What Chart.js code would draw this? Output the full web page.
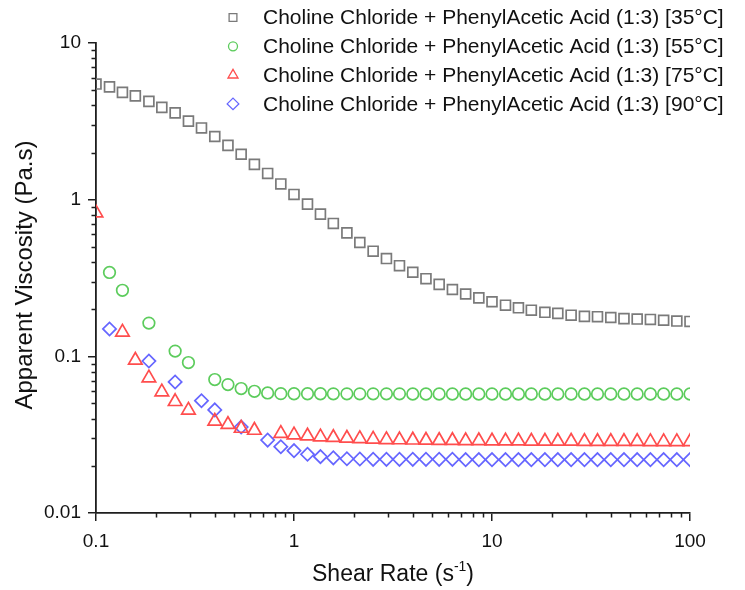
<!DOCTYPE html>
<html lang="en">
<head>
<meta charset="UTF-8">
<title>Apparent Viscosity vs Shear Rate</title>
<script src="https://cdn.jsdelivr.net/npm/chart.js@4"></script>
<style>
  html, body { margin: 0; padding: 0; background: #fff; }
  #wrap { width: 745px; height: 590px; }
</style>
</head>
<body>
<div id="wrap"><canvas id="viscChart" width="745" height="590"></canvas></div>
<script>
// shear rate sweep (1/s), log spaced
const shearRate = [0.1, 0.117, 0.136, 0.158, 0.185, 0.215, 0.251, 0.293, 0.341, 0.398,
  0.464, 0.541, 0.631, 0.736, 0.858, 1, 1.17, 1.36, 1.58, 1.85,
  2.15, 2.51, 2.93, 3.41, 3.98, 4.64, 5.41, 6.31, 7.36, 8.58,
  10, 11.7, 13.6, 15.8, 18.5, 21.5, 25.1, 29.3, 34.1, 39.8,
  46.4, 54.1, 63.1, 73.6, 85.8, 100];

// apparent viscosity (Pa.s), null = no point plotted
const visc35 = [5.47, 5.25, 4.84, 4.60, 4.24, 3.88, 3.58, 3.17, 2.87, 2.53,
  2.22, 1.95, 1.68, 1.47, 1.26, 1.08, 0.936, 0.808, 0.705, 0.614,
  0.533, 0.469, 0.421, 0.379, 0.344, 0.313, 0.288, 0.267, 0.250, 0.236,
  0.223, 0.212, 0.204, 0.197, 0.191, 0.188, 0.183, 0.180, 0.179, 0.177,
  0.174, 0.173, 0.172, 0.170, 0.168, 0.167];
const visc55 = [null, 0.343, 0.264, null, 0.163, null, 0.108, 0.0913, null, 0.0711,
  0.066, 0.0623, 0.0598, 0.0584, 0.0578, 0.0577, 0.0577, 0.0577, 0.0576, 0.0576,
  0.0576, 0.0576, 0.0576, 0.0576, 0.0575, 0.0575, 0.0575, 0.0575, 0.0575, 0.0575,
  0.0575, 0.0575, 0.0575, 0.0575, 0.0575, 0.0575, 0.0575, 0.0575, 0.0575, 0.0575,
  0.0575, 0.0575, 0.0575, 0.0575, 0.0575, 0.0575];
const visc75 = [0.823, null, 0.1425, 0.0944, 0.0728, 0.0593, 0.0514, 0.0453, null, 0.0385,
  0.0367, 0.0347, 0.0337, null, 0.0322, 0.0315, 0.031, 0.0306, 0.0303, 0.030,
  0.0298, 0.0296, 0.0294, 0.0293, 0.0292, 0.0291, 0.029, 0.029, 0.0289, 0.0289,
  0.0288, 0.0288, 0.0288, 0.0287, 0.0287, 0.0287, 0.0287, 0.0286, 0.0286, 0.0286,
  0.0286, 0.0286, 0.0285, 0.0285, 0.0285, 0.0285];
const visc90 = [null, 0.1496, null, null, 0.0933, null, 0.0686, null, 0.0521, 0.0455,
  null, 0.0354, null, 0.0292, 0.0265, 0.025, 0.0237, 0.0229, 0.0225, 0.0222,
  0.0221, 0.022, 0.022, 0.022, 0.022, 0.022, 0.022, 0.022, 0.0219, 0.0219,
  0.0219, 0.0219, 0.0219, 0.0219, 0.0219, 0.0219, 0.0219, 0.0219, 0.0219, 0.0219,
  0.0219, 0.0219, 0.0219, 0.0219, 0.0219, 0.0219];

const seriesLabels = [
  'Choline Chloride + PhenylAcetic Acid (1:3) [35°C]',
  'Choline Chloride + PhenylAcetic Acid (1:3) [55°C]',
  'Choline Chloride + PhenylAcetic Acid (1:3) [75°C]',
  'Choline Chloride + PhenylAcetic Acid (1:3) [90°C]'
];
const xTicks = [0.1, 1, 10, 100];
const yTicks = [0.01, 0.1, 1, 10];
const xTitle = 'Shear Rate (s';
const yTitle = 'Apparent Viscosity (Pa.s)';

const FONT = "'Liberation Sans', Arial, sans-serif";
const AXIS = '#1e1e1e';

function toPoints(vals) {
  return shearRate.map((x, i) => ({ x: x, y: vals[i] })).filter(p => p.y !== null);
}

function makeSet(i, vals, color, style, r) {
  return {
    label: seriesLabels[i],
    data: toPoints(vals),
    pointStyle: style,
    pointRadius: r,
    pointHoverRadius: r,
    pointBorderWidth: 1.7,
    pointBorderColor: color,
    pointBackgroundColor: 'rgba(0,0,0,0)',
    borderColor: color,
    showLine: false
  };
}

// short unlabeled ticks between the decades
function minorValues(first, last) {
  const out = [];
  for (let d = first; d < last; d *= 10) {
    for (let m = 2; m <= 9; m++) out.push(+(m * d).toPrecision(3));
  }
  return out;
}

const minorTicks = {
  id: 'minorTicks',
  afterDraw(chart) {
    const { ctx, scales: { x, y } } = chart;
    ctx.save();
    ctx.strokeStyle = AXIS;
    ctx.lineWidth = 1.5;
    ctx.beginPath();
    minorValues(0.1, 100).forEach(v => {
      const px = Math.round(x.getPixelForValue(v)) + 0.5;
      ctx.moveTo(px, y.bottom);
      ctx.lineTo(px, y.bottom + 4.5);
    });
    minorValues(0.01, 10).forEach(v => {
      const py = Math.round(y.getPixelForValue(v)) + 0.5;
      ctx.moveTo(x.left, py);
      ctx.lineTo(x.left - 4.5, py);
    });
    ctx.stroke();
    ctx.restore();
  }
};

const titles = {
  id: 'titles',
  afterDraw(chart) {
    const { ctx, chartArea } = chart;
    ctx.save();
    ctx.fillStyle = '#111';
    // x title with superscript -1
    const mainFont = '23px ' + FONT;
    const supFont = '14px ' + FONT;
    ctx.font = mainFont;
    const w1 = ctx.measureText(xTitle).width;
    ctx.font = supFont;
    const w2 = ctx.measureText('-1').width;
    ctx.font = mainFont;
    const w3 = ctx.measureText(')').width;
    const cx = (chartArea.left + chartArea.right) / 2;
    const tx = cx - (w1 + w2 + w3) / 2;
    const base = 581;
    ctx.textAlign = 'left';
    ctx.textBaseline = 'alphabetic';
    ctx.fillText(xTitle, tx, base);
    ctx.font = supFont;
    ctx.fillText('-1', tx + w1, base - 10);
    ctx.font = mainFont;
    ctx.fillText(')', tx + w1 + w2, base);
    // y title
    ctx.translate(25, 275);
    ctx.rotate(-Math.PI / 2);
    ctx.textAlign = 'center';
    ctx.textBaseline = 'middle';
    ctx.font = '24px ' + FONT;
    ctx.fillText(yTitle, 0, 0);
    ctx.restore();
  }
};

const legendBox = {
  id: 'legendBox',
  afterDraw(chart) {
    const ctx = chart.ctx;
    ctx.save();
    chart.data.datasets.forEach((ds, i) => {
      const y = 17.5 + i * 28.8;
      ctx.strokeStyle = ds.pointBorderColor;
      ctx.fillStyle = 'rgba(0,0,0,0)';
      ctx.lineWidth = 1.3;
      Chart.helpers.drawPoint(ctx, {
        pointStyle: ds.pointStyle,
        radius: ds.legendRadius,
        borderWidth: 1.3,
        rotation: 0
      }, 233, y);
      ctx.fillStyle = '#111';
      ctx.font = '21px ' + FONT;
      ctx.textAlign = 'left';
      ctx.textBaseline = 'middle';
      ctx.fillText(ds.label, 263, y + 1);
    });
    ctx.restore();
  }
};

const datasets = [
  makeSet(0, visc35, '#7a7a7a', 'rect', 7),
  makeSet(1, visc55, '#5ccc5c', 'circle', 5.8),
  makeSet(2, visc75, '#ff4d4d', 'triangle', 7.8),
  makeSet(3, visc90, '#6666ff', 'rectRot', 6.6)
];
datasets[0].legendRadius = 5.5;
datasets[1].legendRadius = 4.5;
datasets[2].legendRadius = 5.8;
datasets[3].legendRadius = 5.8;

const tickFont = { family: FONT, size: 19 };

new Chart(document.getElementById('viscChart'), {
  type: 'scatter',
  data: { datasets: datasets },
  options: {
    responsive: false,
    animation: false,
    events: [],
    layout: { padding: { left: 0, right: 55, top: 43, bottom: 0 } },
    plugins: { legend: { display: false }, tooltip: { enabled: false } },
    scales: {
      x: {
        type: 'logarithmic',
        min: 0.1,
        max: 100,
        afterBuildTicks: s => { s.ticks = xTicks.map(v => ({ value: v })); },
        afterFit: s => { s.height = 77; },
        border: { display: true, color: AXIS, width: 1.8 },
        grid: { drawOnChartArea: false, drawTicks: true, tickLength: 8, color: AXIS, lineWidth: 1.5 },
        ticks: {
          color: '#111', font: tickFont, padding: 9, maxRotation: 0, autoSkip: false,
          callback: v => String(v)
        }
      },
      y: {
        type: 'logarithmic',
        min: 0.01,
        max: 10,
        afterBuildTicks: s => { s.ticks = yTicks.map(v => ({ value: v })); },
        afterFit: s => { s.width = 96; },
        border: { display: true, color: AXIS, width: 1.8 },
        grid: { drawOnChartArea: false, drawTicks: true, tickLength: 8, color: AXIS, lineWidth: 1.5 },
        ticks: {
          color: '#111', font: tickFont, padding: 7, autoSkip: false,
          callback: v => String(v)
        }
      }
    }
  },
  plugins: [minorTicks, titles, legendBox]
});
</script>
</body>
</html>
